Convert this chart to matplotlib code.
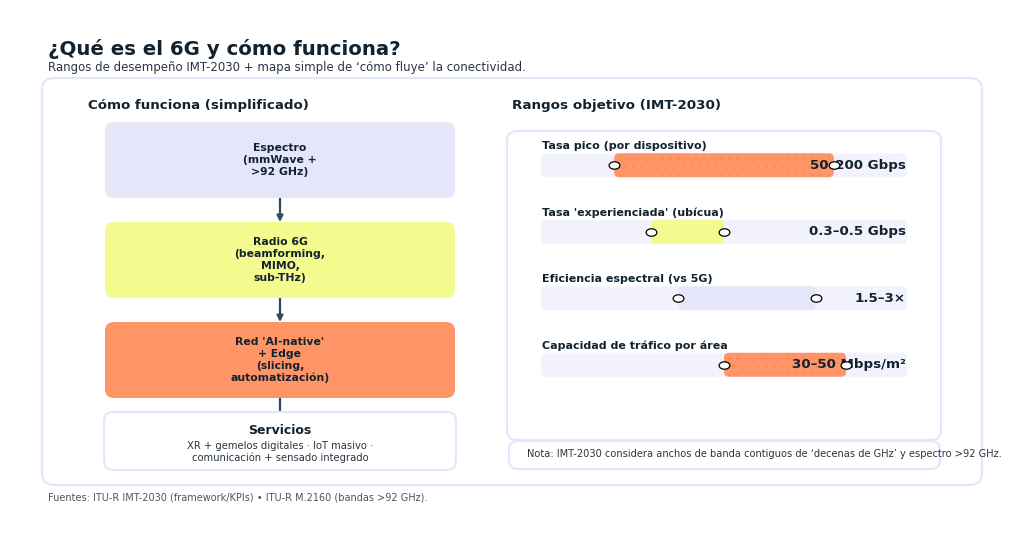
import matplotlib
matplotlib.use('Agg')
import matplotlib.pyplot as plt
import numpy as np
from matplotlib.patches import FancyBboxPatch
from matplotlib.path import Path
from matplotlib.transforms import Affine2D

plt.rcParams['font.family'] = ['DejaVu Sans']
plt.rcParams['hatch.linewidth'] = 0.4

# data
TITLE = '¿Qué es el 6G y cómo funciona?'
SUBTITLE = 'Rangos de desempeño IMT-2030 + mapa simple de ‘cómo fluye’ la conectividad.'
FOOTER = 'Fuentes: ITU-R IMT-2030 (framework/KPIs) • ITU-R M.2160 (bandas >92 GHz).'
NOTE = 'Nota: IMT-2030 considera anchos de banda contiguos de ‘decenas de GHz’ y espectro >92 GHz.'

flow_steps = [
    'Espectro\n(mmWave +\n>92 GHz)',
    "Radio 6G\n(beamforming,\nMIMO,\nsub-THz)",
    "Red 'AI-native'\n+ Edge\n(slicing,\nautomatización)",
]
services_title = 'Servicios'
services_text = 'XR + gemelos digitales · IoT masivo ·\ncomunicación + sensado integrado'

metric_names = [
    'Tasa pico (por dispositivo)',
    "Tasa 'experienciada' (ubícua)",
    'Eficiencia espectral (vs 5G)',
    'Capacidad de tráfico por área',
]
range_low = [50, 0.3, 1.5, 30]
range_high = [200, 0.5, 3, 50]
scale_max = [250, 1.0, 4, 60]
value_labels = ['50–200 Gbps', '0.3–0.5 Gbps', '1.5–3×', '30–50 Mbps/m²']

# styles
INK = '#13222f'
LAVENDER = '#e6e6fa'
YELLOW = '#f3fa8e'
ORANGE = '#ff9466'
TRACK = '#f3f3fd'
ARROW = '#34495e'
step_colors = [LAVENDER, YELLOW, ORANGE]
bar_colors = [ORANGE, YELLOW, LAVENDER, ORANGE]
bar_hatch = ['#f48a5c', None, None, '#f48a5c']

W, H = 1024, 542
fig = plt.figure(figsize=(W / 100, H / 100), dpi=100)
canvas = fig.add_axes([0, 0, 1, 1])
canvas.set_xlim(0, W)
canvas.set_ylim(H, 0)
canvas.axis('off')


def rbox(x0, y0, x1, y1, fc, ec='none', lw=0, r=8, z=1):
    p = FancyBboxPatch((x0, y0), x1 - x0, y1 - y0,
                       boxstyle=f'round,pad=0,rounding_size={r}',
                       fc=fc, ec=ec, lw=lw, zorder=z)
    canvas.add_patch(p)
    return p


# title block
canvas.text(48, 49, TITLE, fontsize=14.2, fontweight='bold', color=INK, va='center')
canvas.text(48, 68, SUBTITLE, fontsize=8.45, color='#2b3540', va='center')
canvas.text(48, 498, FOOTER, fontsize=7, color='#4a5560', va='center')

# outer panel
rbox(42, 78, 982, 485, 'white', LAVENDER, 1.6, r=12)

canvas.text(88, 106, 'Cómo funciona (simplificado)', fontsize=9.6, fontweight='bold',
            color=INK, va='center')
canvas.text(512, 106, 'Rangos objetivo (IMT-2030)', fontsize=9.7, fontweight='bold',
            color=INK, va='center')

# flow boxes
box_tops = [122, 222, 322]
box_h = 76
for top, label, col in zip(box_tops, flow_steps, step_colors):
    rbox(105, top, 455, top + box_h, col, r=9, z=2)
    canvas.text(280, top + box_h / 2, label, ha='center', va='center', fontsize=7.8,
                fontweight='bold', color=INK, linespacing=1.22, zorder=3)

for top in box_tops[:2]:
    canvas.annotate('', xy=(280, top + box_h + 24), xytext=(280, top + box_h),
                    arrowprops=dict(arrowstyle='-|>', color=ARROW, lw=1.6,
                                    mutation_scale=9, shrinkA=0, shrinkB=0),
                    zorder=1)
canvas.plot([280, 280], [398, 412], color=ARROW, lw=1.6, zorder=1)

rbox(104, 412, 456, 470, 'white', LAVENDER, 1.6, r=9, z=2)
canvas.text(280, 430, services_title, ha='center', va='center', fontsize=9,
            fontweight='bold', color=INK, zorder=3)
canvas.text(280, 452, services_text, ha='center', va='center', fontsize=7.2,
            color='#2b3540', linespacing=1.25, zorder=3)

# right panel
rbox(507, 131, 941, 440, 'white', LAVENDER, 1.6, r=10)
rbox(509, 441, 940, 469, 'white', LAVENDER, 1.6, r=9)
canvas.text(527, 454, NOTE, fontsize=7.1, color='#2b3540', va='center')

# range chart axes
x0, x1 = 541, 907
y0, y1 = 132, 398
ax = fig.add_axes([x0 / W, 1 - y1 / H, (x1 - x0) / W, (y1 - y0) / H])
ax.set_xlim(0, 1)
ax.set_ylim(3.5, -0.5)
ax.axis('off')
ax.patch.set_alpha(0)

n = len(metric_names)
ypos = np.arange(n)
bar_h = 0.36
lo = np.array(range_low) / np.array(scale_max)
hi = np.array(range_high) / np.array(scale_max)

px_x = 1 / (x1 - x0)
px_y = 4 / (y1 - y0)
rad = 5 * px_x
aspect = px_y / px_x


def rbar(left, width, y, fc, hatch_col):
    p = FancyBboxPatch((left, y - bar_h / 2), width, bar_h,
                       boxstyle=f'round,pad=0,rounding_size={rad}',
                       mutation_aspect=aspect, fc=fc,
                       ec=hatch_col if hatch_col else fc, lw=0,
                       hatch='..' if hatch_col else None, zorder=2)
    ax.add_patch(p)


for i in range(n):
    rbar(0, 1, ypos[i], TRACK, '#ececf8')
    rbar(lo[i], hi[i] - lo[i], ypos[i], bar_colors[i], bar_hatch[i])
    ax.text(0.003, ypos[i] - 0.29, metric_names[i], fontsize=8, fontweight='bold',
            color=INK, va='center', ha='left')
    ax.text(0.997, ypos[i], value_labels[i], fontsize=9.6, fontweight='bold',
            color=INK, va='center', ha='right', zorder=4)

ell = Path.unit_circle().transformed(Affine2D().scale(1.45, 1.0))
ax.scatter(np.concatenate([lo, hi]), np.concatenate([ypos, ypos]), marker=ell,
           s=60, facecolor='white', edgecolor='black', linewidth=0.9, zorder=5)

fig.savefig('out.png', dpi=100)
